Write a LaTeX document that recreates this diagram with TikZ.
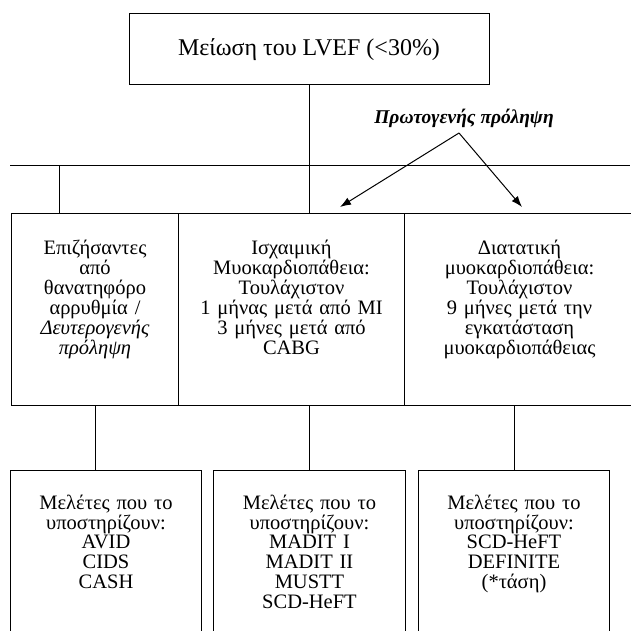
\documentclass[tikz,border=0pt]{standalone}
\usepackage{fontspec}
\setmainfont{Liberation Serif}
\usetikzlibrary{arrows.meta}

\tikzset{
  box/.style={draw, line width=1pt, inner sep=0pt, align=center, anchor=north west},
  midbox/.style={box, text height=41pt, text depth=151pt, font=\fontsize{20.5}{19.9}\selectfont},
  studybox/.style={box, text height=39pt, text depth=131pt, font=\fontsize{20.5}{19.7}\selectfont},
  link/.style={line width=1pt},
  arrowlink/.style={line width=1pt, -{Latex[length=11pt,width=8pt]}}
}

\begin{document}
\begin{tikzpicture}[x=1pt, y=-1pt]
  \useasboundingbox (0,0) rectangle (630,631);

  % top box
  \node [draw, line width=1pt, minimum width=360pt, minimum height=71pt, inner sep=0pt,
         font=\fontsize{24}{28}\selectfont] (lvef) at (309,49.5) {Μείωση του LVEF (<30\%)};
  \node [anchor=base, font=\fontsize{19.5}{22}\selectfont\bfseries\itshape] (primary) at (464,124) {Πρωτογενής πρόληψη};

  % middle row
  \node [midbox, text width=167pt] (surv) at (11,213)
        {Επιζήσαντες\\από\\θανατηφόρο\\αρρυθμία /\\\textit{Δευτερογενής}\\\textit{πρόληψη}};
  \node [midbox, text width=226pt] (isch) at (178,213)
        {Ισχαιμική\\Μυοκαρδιοπάθεια:\\Τουλάχιστον\\1 μήνας μετά από MI\\3 μήνες μετά από\\CABG};
  \node [midbox, text width=230pt] (dil) at (404,213)
        {Διατατική\\μυοκαρδιοπάθεια:\\Τουλάχιστον\\9 μήνες μετά την\\εγκατάσταση\\μυοκαρδιοπάθειας};

  % bottom row
  \node [studybox, text width=191pt] (studyA) at (10,470)
        {Μελέτες που το\\υποστηρίζουν:\\AVID\\CIDS\\CASH};
  \node [studybox, text width=192pt] (studyB) at (213,470)
        {Μελέτες που το\\υποστηρίζουν:\\MADIT I\\MADIT II\\MUSTT\\SCD-HeFT};
  \node [studybox, text width=191pt] (studyC) at (418,470)
        {Μελέτες που το\\υποστηρίζουν:\\SCD-HeFT\\DEFINITE\\(*τάση)};

  \coordinate (railL) at (10,166);
  \coordinate (railR) at (630,166);
  \coordinate (railS) at (59,166);
  \coordinate (apex) at (459,133);
  \coordinate (tipL) at (340,207);
  \coordinate (tipR) at (522,207);

  \draw [link] (railL) -- (railR);
  \draw [link] (lvef.south) -- (lvef.south |- isch.north);
  \draw [link] (railS) -- (railS |- surv.north);
  \draw [arrowlink] (apex) -- (tipL);
  \draw [arrowlink] (apex) -- (tipR);
  \draw [link] (surv.south) -- (surv.south |- studyA.north);
  \draw [link] (studyB.north) -- (studyB.north |- isch.south);
  \draw [link] (studyC.north) -- (studyC.north |- dil.south);
\end{tikzpicture}
\end{document}
